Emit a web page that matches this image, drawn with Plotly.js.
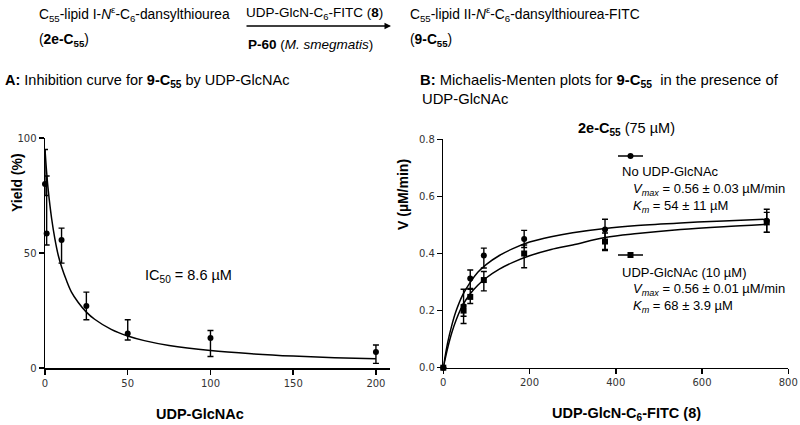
<!DOCTYPE html>
<html>
<head>
<meta charset="utf-8">
<script src="https://cdn.plot.ly/plotly-3.0.1.min.js"></script>
<style>html,body{margin:0;padding:0;background:#fff}#chart{width:800px;height:425px}</style>
</head>
<body>
<div id="chart"></div>
<script>
// ---------- Panel A: inhibition data ----------
const inhibConc = [0, 1, 10, 25, 50, 100, 200];
const inhibYield = [80, 58.5, 55.6, 27, 15, 13, 7];
const inhibErrPlus = [15, 25, 5.2, 6, 6, 3.3, 3];
const inhibErrMinus = [5, 5, 10, 6, 2.8, 8, 5];
const inhibFitX = [0, 1, 2, 4, 6, 8, 10, 13, 16, 20, 25, 30, 40, 50, 60, 75, 100, 125, 150, 175, 200];
const inhibFitY = [95, 85, 77, 65, 56, 49, 44, 38, 33, 28.6, 24.3, 21.2, 16.8, 13.9, 11.9, 9.8, 7.6, 6.2, 5.2, 4.5, 4.0];

// ---------- Panel B: Michaelis-Menten data ----------
const substrateConc = [0, 47, 62.5, 94, 187.5, 375, 750];
const vNoInhib = [0, 0.215, 0.312, 0.393, 0.451, 0.484, 0.515];
const vNoInhibErrPlus = [0, 0.06, 0.03, 0.026, 0.03, 0.036, 0.04];
const vNoInhibErrMinus = [0, 0.06, 0.037, 0.044, 0.03, 0.07, 0.04];
const vInhib = [0, 0.200, 0.248, 0.307, 0.400, 0.442, 0.509];
const vInhibErrPlus = [0, 0.02, 0.03, 0.03, 0.03, 0.03, 0.035];
const vInhibErrMinus = [0, 0.02, 0.023, 0.038, 0.05, 0.032, 0.035];
const mmFitX = [0, 10, 20, 30, 45, 62, 80, 100, 130, 160, 200, 250, 300, 375, 450, 550, 650, 750];
const mmFitNoInhib = [0, 0.087, 0.150, 0.200, 0.255, 0.298, 0.334, 0.362, 0.393, 0.416, 0.440, 0.459, 0.473, 0.488, 0.498, 0.507, 0.514, 0.520];
const mmFitInhib = [0, 0.068, 0.124, 0.168, 0.219, 0.258, 0.289, 0.315, 0.345, 0.368, 0.392, 0.414, 0.430, 0.456, 0.470, 0.484, 0.494, 0.502];

const FONT = 'Liberation Sans, Arial, sans-serif';
const TICKFONT = 'DejaVu Sans, sans-serif';
const black = '#000';

const errStyle = (plus, minus) => ({type: 'data', symmetric: false, array: plus, arrayminus: minus,
  color: black, thickness: 1.4, width: 3});

const traces = [
  {x: inhibFitX, y: inhibFitY, xaxis: 'x', yaxis: 'y', mode: 'lines', line: {color: black, width: 1.5, shape: 'spline'}, hoverinfo: 'skip'},
  {x: inhibConc, y: inhibYield, xaxis: 'x', yaxis: 'y', mode: 'markers', cliponaxis: false,
   marker: {symbol: 'circle', size: 6, color: black}, error_y: errStyle(inhibErrPlus, inhibErrMinus)},
  {x: mmFitX, y: mmFitNoInhib, xaxis: 'x2', yaxis: 'y2', mode: 'lines', line: {color: black, width: 1.5, shape: 'spline'}, hoverinfo: 'skip'},
  {x: mmFitX, y: mmFitInhib, xaxis: 'x2', yaxis: 'y2', mode: 'lines', line: {color: black, width: 1.5, shape: 'spline'}, hoverinfo: 'skip'},
  {x: substrateConc, y: vNoInhib, xaxis: 'x2', yaxis: 'y2', mode: 'markers', cliponaxis: false,
   marker: {symbol: 'circle', size: 6, color: black}, error_y: errStyle(vNoInhibErrPlus, vNoInhibErrMinus)},
  {x: substrateConc, y: vInhib, xaxis: 'x2', yaxis: 'y2', mode: 'markers', cliponaxis: false,
   marker: {symbol: 'square', size: 6, color: black}, error_y: errStyle(vInhibErrPlus, vInhibErrMinus)}
];

const axisBase = {
  showgrid: false, zeroline: false, showline: true, linecolor: black, linewidth: 1.5,
  ticks: 'outside', ticklen: 5, tickwidth: 1.5, tickcolor: black,
  tickfont: {family: TICKFONT, size: 10, color: '#333'}, fixedrange: true
};

const H = 425, W = 800;
const px = v => v / W;
const py = v => (H - v) / H;

const ann = (x, y, text, opts = {}) => Object.assign({
  xref: 'paper', yref: 'paper', x: px(x), y: py(y), text: text, showarrow: false,
  xanchor: 'left', yanchor: 'middle', font: {family: FONT, size: 14.5, color: black}
}, opts);
const small = {family: FONT, size: 13, color: black};
const scheme = {family: FONT, size: 13.8, color: black};

const annotations = [
  // reaction scheme
  ann(37, 14, 'C<sub>55</sub>-lipid I-<i>N</i><sup>ε</sup>-C<sub>6</sub>-dansylthiourea', {font: scheme}),
  ann(37, 40, '(<b>2e-C<sub>55</sub></b>)', {font: scheme}),
  ann(314, 13, 'UDP-GlcN-C<sub>6</sub>-FITC (<b>8</b>)', {xanchor: 'center', font: {family: FONT, size: 13.5, color: black}}),
  ann(310, 45, '<b>P-60</b> (<i>M. smegmatis</i>)', {xanchor: 'center', font: {family: FONT, size: 13.5, color: black}}),
  ann(408, 14, 'C<sub>55</sub>-lipid II-<i>N</i><sup>ε</sup>-C<sub>6</sub>-dansylthiourea-FITC', {font: scheme}),
  ann(408, 40, '(<b>9-C<sub>55</sub></b>)', {font: scheme}),
  {xref: 'paper', yref: 'paper', x: px(391), y: py(26), ax: -146, ay: 0, text: '', showarrow: true,
   arrowhead: 2, arrowsize: 1, arrowwidth: 1.3, arrowcolor: black},
  // panel titles
  ann(3, 81, '<b>A:</b> Inhibition curve for <b>9-C<sub>55</sub></b> by UDP-GlcNAc'),
  ann(418, 81, '<b>B:</b> Michaelis-Menten plots for <b>9-C<sub>55</sub></b>  in the presence of', {font: {family: FONT, size: 14.8, color: black}}),
  ann(420, 99, 'UDP-GlcNAc', {font: {family: FONT, size: 14.8, color: black}}),
  // panel A
  ann(143, 276, 'IC<sub>50</sub> = 8.6 µM'),
  ann(17, 183, '<b>Yield (%)</b>', {xanchor: 'center', textangle: -90, font: {family: FONT, size: 14, color: black}}),
  ann(200, 414, '<b>UDP-GlcNAc</b>', {xanchor: 'center', font: {family: FONT, size: 14.5, color: black}}),
  // panel B
  ann(626, 129, '<b>2e-C<sub>55</sub></b> (75 µM)', {xanchor: 'center'}),
  ann(620, 172, 'No UDP-GlcNAc', {font: small}),
  ann(631, 189, '<i>V<sub>max</sub></i> = 0.56 ± 0.03 µM/min', {font: small}),
  ann(631, 206, '<i>K<sub>m</sub></i> = 54 ± 11 µM', {font: small}),
  ann(620, 272, 'UDP-GlcNAc (10 µM)', {font: small}),
  ann(631, 289, '<i>V<sub>max</sub></i> = 0.56 ± 0.01 µM/min', {font: small}),
  ann(631, 306, '<i>K<sub>m</sub></i> = 68 ± 3.9 µM', {font: small}),
  ann(403, 195, '<b>V (µM/min)</b>', {xanchor: 'center', textangle: -90, font: {family: FONT, size: 14, color: black}}),
  ann(626, 414, '<b>UDP-GlcN-C<sub>6</sub>-FITC (8)</b>', {xanchor: 'center', font: {family: FONT, size: 14.5, color: black}})
];

const shapes = [
  // legend key: circles
  {type: 'line', xref: 'paper', yref: 'paper', x0: px(618), x1: px(643), y0: py(156), y1: py(156), line: {color: black, width: 1.5}},
  {type: 'circle', xref: 'paper', yref: 'paper', x0: px(627.5), x1: px(633.5), y0: py(159), y1: py(153), fillcolor: black, line: {color: black, width: 0}},
  // legend key: squares
  {type: 'line', xref: 'paper', yref: 'paper', x0: px(618), x1: px(643), y0: py(255), y1: py(255), line: {color: black, width: 1.5}},
  {type: 'rect', xref: 'paper', yref: 'paper', x0: px(627.5), x1: px(633.5), y0: py(258), y1: py(252), fillcolor: black, line: {color: black, width: 0}}
];

const layout = {
  width: W, height: H, margin: {l: 0, r: 0, t: 0, b: 0},
  paper_bgcolor: '#fff', plot_bgcolor: '#fff', showlegend: false,
  font: {family: FONT, color: black},
  xaxis: Object.assign({}, axisBase, {domain: [px(45), px(390)], range: [0, 208.5], tickvals: [0, 50, 100, 150, 200], anchor: 'y'}),
  yaxis: Object.assign({}, axisBase, {domain: [py(368), py(138)], range: [0, 100], tickvals: [0, 50, 100], anchor: 'x'}),
  xaxis2: Object.assign({}, axisBase, {domain: [px(443.3), px(788.3)], range: [0, 800], tickvals: [0, 200, 400, 600, 800], anchor: 'y2'}),
  yaxis2: Object.assign({}, axisBase, {domain: [py(367.7), py(139.3)], range: [0, 0.8], tickvals: [0, 0.2, 0.4, 0.6, 0.8], tickformat: '.1f', anchor: 'x2'}),
  annotations: annotations,
  shapes: shapes
};

Plotly.newPlot('chart', traces, layout, {displayModeBar: false, staticPlot: true});
</script>
</body>
</html>
